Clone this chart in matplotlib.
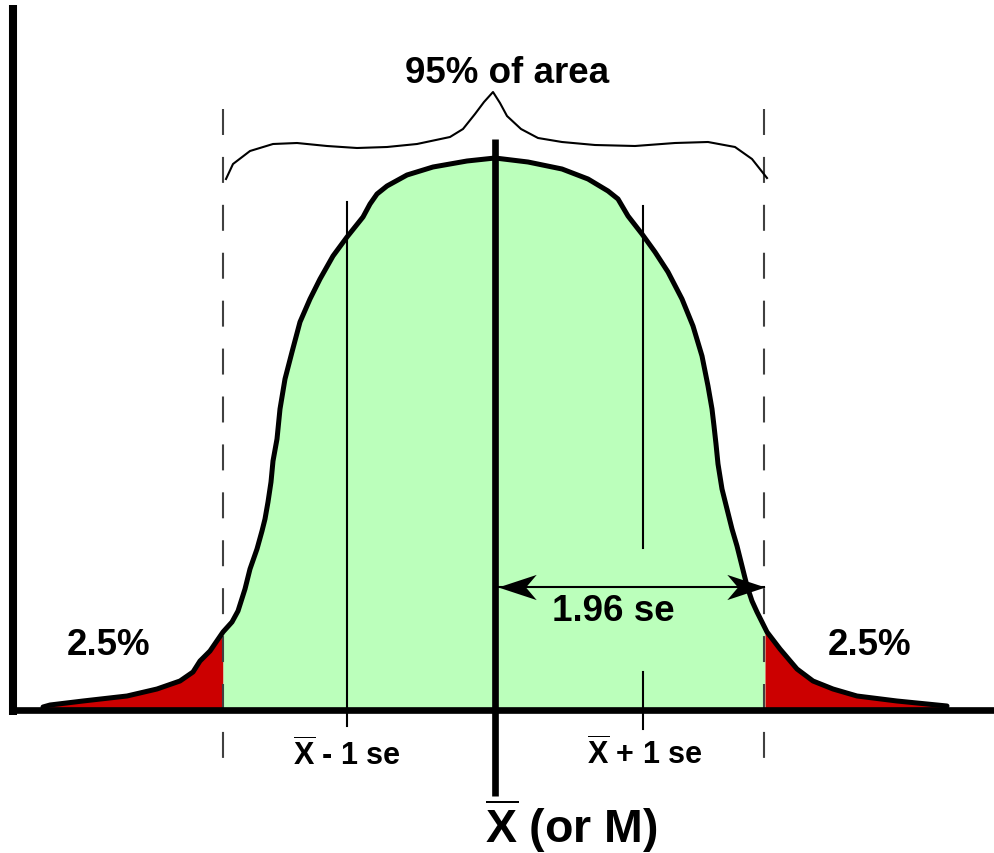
import numpy as np
import matplotlib
matplotlib.use("Agg")
import matplotlib.pyplot as plt
from matplotlib.path import Path
from matplotlib.markers import MarkerStyle

plt.rcParams["font.family"] = ["Liberation Sans", "DejaVu Sans"]
plt.rcParams["font.weight"] = "bold"
plt.rcParams["mathtext.fontset"] = "custom"
plt.rcParams["mathtext.rm"] = "Liberation Sans:bold"
plt.rcParams["mathtext.bf"] = "Liberation Sans:bold"
plt.rcParams["lines.scale_dashes"] = False

# contorno de la curva (unidades del lienzo, y crece hacia abajo)
curva_x = [43, 50, 83, 127, 157, 180, 193, 200, 210, 223, 232, 238, 245, 250, 257,
           262, 265, 268, 271, 273, 277, 280, 285, 292, 300, 310, 320, 333, 347, 363,
           370, 377, 387, 407, 433, 467, 495, 528, 562, 588, 608, 618, 628, 642, 655,
           668, 682, 693, 702, 708, 712, 714, 716, 718, 722, 727, 732, 737, 742, 747,
           752, 757, 767, 780, 797, 813, 833, 857, 897, 947]
curva_y = [708, 706, 702, 697, 690, 682, 673, 662, 652, 633, 623, 612, 590, 570, 550,
           532, 520, 503, 483, 462, 440, 410, 380, 353, 323, 300, 280, 257, 238, 218,
           205, 195, 187, 176, 168, 162, 159, 163, 170, 180, 192, 200, 217, 235, 253,
           273, 300, 327, 357, 387, 410, 427, 445, 465, 490, 510, 530, 547, 567, 587,
           602, 613, 633, 650, 670, 682, 690, 697, 702, 707]

# llave sobre el 95%
llave_x = [226, 233, 250, 273, 297, 327, 357, 387, 417, 450, 463, 475, 484, 493,
           500, 507, 521, 538, 562, 595, 635, 675, 708, 735, 752, 767]
llave_y = [180, 165, 152, 145, 144, 147, 149, 148, 145, 138, 130, 115, 103, 93,
           104, 117, 130, 139, 143, 146, 147, 144, 143, 148, 160, 179]

base_y = 711
media_x = 495
se_menos_x = 347
se_mas_x = 643
corte_izq = 223
corte_der = 764
flecha_y = 588

verde = "#bbffbb"
rojo = "#cc0000"


def tramo(x0, x1):
    cx = np.array(curva_x, dtype=float)
    cy = np.array(curva_y, dtype=float)
    dentro = (cx > x0) & (cx < x1)
    xs = np.concatenate([[x0], cx[dentro], [x1]])
    ys = np.interp(xs, cx, cy)
    return xs, ys


fig = plt.figure(figsize=(9.94, 8.54), dpi=100)
ax = fig.add_axes([0, 0, 1, 1])
ax.set_xlim(0, 994)
ax.set_ylim(854, 0)
ax.axis("off")

# rellenos
xs, ys = tramo(curva_x[0], corte_izq)
ax.fill_between(xs, ys, base_y, color=rojo, lw=0, zorder=1)
xs, ys = tramo(corte_izq, corte_der + 1)
ax.fill_between(xs, ys, base_y, color=verde, lw=0, zorder=1)
xs, ys = tramo(corte_der + 1, curva_x[-1])
ax.fill_between(xs, ys, base_y, color=rojo, lw=0, zorder=1)

# lineas de corte punteadas
for xc in [corte_izq, corte_der]:
    ax.plot([xc, xc], [110, 760], color="#404040", lw=1.5,
            dashes=(18.7, 15.8), zorder=3)

# lineas de +-1 se
ax.plot([se_menos_x, se_menos_x], [203, 727], color="black", lw=1.5, zorder=2)
ax.plot([se_mas_x, se_mas_x], [207, 549], color="black", lw=1.5, zorder=2)
ax.plot([se_mas_x, se_mas_x], [673, 730], color="black", lw=1.5, zorder=2)

# curva
ax.plot(curva_x, curva_y, color="black", lw=3.6, solid_joinstyle="round",
        solid_capstyle="round", zorder=4)

# ejes
ax.plot([13, 13], [6, 716], color="black", lw=5.8, solid_capstyle="butt", zorder=5)
ax.plot([9, 994], [base_y, base_y], color="black", lw=4.8, solid_capstyle="butt", zorder=5)
ax.plot([media_x, media_x], [140, 797], color="black", lw=4.8, solid_capstyle="butt", zorder=5)

# llave
ax.plot(llave_x, llave_y, color="black", lw=1.5, solid_joinstyle="round", zorder=4)

# flecha 1.96 se
ax.plot([media_x + 3, corte_der], [flecha_y, flecha_y], color="black", lw=1.5, zorder=6)
punta_der = Path([(0, 0), (-1, 0.33), (-0.72, 0), (-1, -0.33), (0, 0)],
                 [Path.MOVETO, Path.LINETO, Path.LINETO, Path.LINETO, Path.CLOSEPOLY])
punta_izq = Path([(0, 0), (1, 0.33), (0.72, 0), (1, -0.33), (0, 0)],
                 [Path.MOVETO, Path.LINETO, Path.LINETO, Path.LINETO, Path.CLOSEPOLY])
ax.plot([corte_der + 1], [flecha_y], marker=MarkerStyle(punta_der), markersize=55,
        color="black", markeredgewidth=0, zorder=6)
ax.plot([media_x + 3], [flecha_y], marker=MarkerStyle(punta_izq), markersize=55,
        color="black", markeredgewidth=0, zorder=6)

# textos
ax.text(507, 83, "95% of area", fontsize=26.5, ha="center", va="baseline", zorder=7)
ax.text(109, 655, "2.5%", fontsize=26.5, ha="center", va="baseline", zorder=7)
ax.text(870, 655, "2.5%", fontsize=26.5, ha="center", va="baseline", zorder=7)
ax.text(613, 621, "1.96 se", fontsize=26.5, ha="center", va="baseline", zorder=7)
ax.text(se_menos_x, 766, r"$\overline{\mathbf{X}}$ - 1 se", fontsize=22,
        ha="center", va="baseline", zorder=7)
ax.text(se_mas_x + 2, 765, r"$\overline{\mathbf{X}}$ + 1 se", fontsize=22,
        ha="center", va="baseline", zorder=7)
ax.text(485, 843, r"$\overline{\mathbf{X}}$ (or M)", fontsize=33.5,
        ha="left", va="baseline", zorder=7)

fig.savefig("out.png", dpi=100)
